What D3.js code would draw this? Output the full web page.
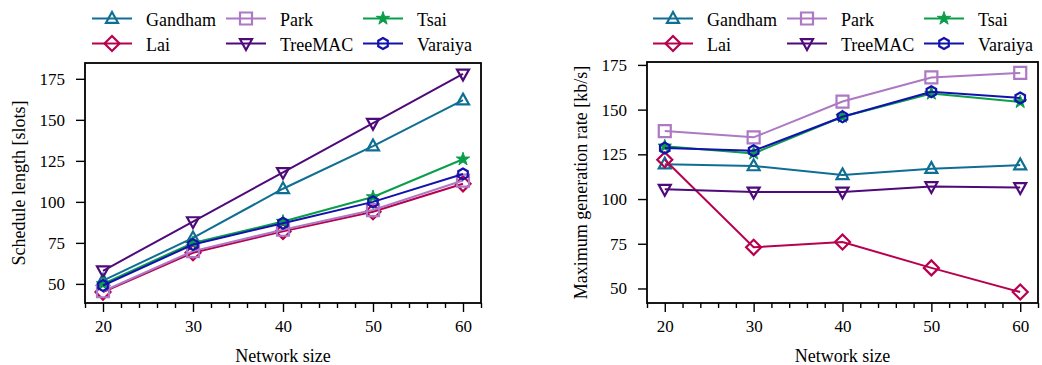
<!DOCTYPE html>
<html>
<head>
<meta charset="utf-8">
<script src="https://cdn.jsdelivr.net/npm/d3@7/dist/d3.min.js"></script>
<style>
  html, body { margin: 0; padding: 0; background: #fff; }
  #chart text { font-family: "Liberation Serif", "Times New Roman", serif !important; }
</style>
</head>
<body>
<svg id="chart" width="1042" height="365"></svg>
<script>
// Network sizes on the x axis
const networkSizes = [20, 30, 40, 50, 60];
const xTicks = [20, 30, 40, 50, 60];

// Protocol names (legend order)
const protocols = ["Gandham", "Lai", "Park", "TreeMAC", "Tsai", "Varaiya"];

// Schedule length [slots]
const scheduleGandham = [52, 78, 108, 134, 162];
const scheduleLai     = [45, 69, 82, 94, 111];
const schedulePark    = [45.5, 70, 83, 95, 113];
const scheduleTreeMAC = [58, 88, 118, 148, 178];
const scheduleTsai    = [50, 75, 88, 103, 126];
const scheduleVaraiya = [49, 74, 87, 100, 117];
const scheduleTicks   = [50, 75, 100, 125, 150, 175];

// Maximum generation rate [kb/s]
const rateGandham = [119.5, 118.5, 113.5, 117, 119];
const rateLai     = [122, 73, 76, 61.5, 48];
const ratePark    = [138, 134.5, 154.5, 168, 170.5];
const rateTreeMAC = [105.5, 104, 104, 107, 106.5];
const rateTsai    = [129.5, 125.5, 146, 159, 154.3];
const rateVaraiya = [128.5, 127, 146, 160, 156.5];
const rateTicks   = [50, 75, 100, 125, 150, 175];

const FONT = "Liberation Serif, serif";
const LABEL_SIZE = 18;
const TICK_SIZE = 17;

const colors = {
  Gandham: "#0f6e93",
  Lai: "#b8004e",
  Park: "#ad78c4",
  TreeMAC: "#4f0a7a",
  Tsai: "#0a9e4a",
  Varaiya: "#1212ad"
};

const markerPaths = {
  Gandham: "M0,-6.5L6,4.3L-6,4.3Z",
  Lai: "M0,-7.5L7.5,0L0,7.5L-7.5,0Z",
  Park: "M-6,-6H6V6H-6Z",
  TreeMAC: "M0,6.5L6,-4.3L-6,-4.3Z",
  Tsai: d3.symbol(d3.symbolStar, 55)(),
  Varaiya: (() => {
    const r = 5.5, pts = [];
    for (let i = 0; i < 6; i++) {
      const a = Math.PI / 2 + i * Math.PI / 3;
      pts.push([r * Math.cos(a), -r * Math.sin(a)]);
    }
    return "M" + pts.map(p => p.join(",")).join("L") + "Z";
  })()
};

const svg = d3.select("#chart").attr("font-family", FONT);

function padded(values) {
  const [lo, hi] = d3.extent(values);
  const m = (hi - lo) * 0.05;
  return [lo - m, hi + m];
}

function styleText(sel, size) {
  return sel.attr("font-family", FONT).attr("font-size", size).attr("fill", "#000");
}

function drawMarker(g, name, x, y) {
  const filled = name === "Tsai";
  g.append("path")
    .attr("d", markerPaths[name])
    .attr("transform", `translate(${x},${y})`)
    .attr("fill", filled ? colors[name] : "none")
    .attr("stroke", colors[name])
    .attr("stroke-width", filled ? 1 : 2.2)
    .attr("stroke-linejoin", "miter");
}

function panel(opts) {
  const { left, right, top, bottom, series, yTicks, yLabel, legendX } = opts;
  const allVals = series.flatMap(s => s.values);
  const x = d3.scaleLinear().domain([18, 62]).range([left, right]);
  const y = d3.scaleLinear().domain(padded(allVals)).range([bottom, top]);

  const g = svg.append("g");

  // x axis: major ticks with labels, minor ticks every 2
  const xAxis = d3.axisBottom(x).tickValues(xTicks).tickSize(9).tickPadding(8).tickFormat(d3.format("d"));
  const xMinor = d3.axisBottom(x).tickValues(d3.range(18, 62.1, 2).filter(v => v % 10 !== 0)).tickSize(5).tickFormat("");
  const gx = g.append("g").attr("transform", `translate(0,${bottom})`).call(xAxis);
  const gxm = g.append("g").attr("transform", `translate(0,${bottom})`).call(xMinor);
  [gx, gxm].forEach(a => {
    a.attr("font-family", FONT).attr("font-size", TICK_SIZE);
    a.select(".domain").remove();
    a.selectAll("line").attr("stroke", "#000").attr("stroke-width", 1.4);
  });
  styleText(gx.selectAll("text"), TICK_SIZE);

  // y axis
  const yAxis = d3.axisLeft(y).tickValues(yTicks).tickSize(9).tickPadding(11).tickFormat(d3.format("d"));
  const gy = g.append("g").attr("transform", `translate(${left},0)`).call(yAxis);
  gy.attr("font-family", FONT).attr("font-size", TICK_SIZE);
  gy.select(".domain").remove();
  gy.selectAll("line").attr("stroke", "#000").attr("stroke-width", 1.4);
  styleText(gy.selectAll("text"), TICK_SIZE);

  // series lines and markers
  const line = d3.line().x((d, i) => x(networkSizes[i])).y(d => y(d));
  series.forEach(s => {
    g.append("path")
      .attr("d", line(s.values))
      .attr("fill", "none")
      .attr("stroke", colors[s.name])
      .attr("stroke-width", 2);
    s.values.forEach((v, i) => drawMarker(g, s.name, x(networkSizes[i]), y(v)));
  });

  // frame
  g.append("rect")
    .attr("x", left).attr("y", top)
    .attr("width", right - left).attr("height", bottom - top)
    .attr("fill", "none").attr("stroke", "#000").attr("stroke-width", 1.8);

  // axis titles
  styleText(g.append("text")
    .attr("x", (left + right) / 2).attr("y", bottom + 59)
    .attr("text-anchor", "middle"), LABEL_SIZE)
    .text("Network size");
  styleText(g.append("text")
    .attr("transform", `translate(${left - 60},${(top + bottom) / 2}) rotate(-90)`)
    .attr("text-anchor", "middle"), LABEL_SIZE)
    .text(yLabel);

  // legend: 3 columns x 2 rows
  const colOffsets = [0, 134, 271];
  const rows = [18.5, 43.5];
  protocols.forEach((name, i) => {
    const col = Math.floor(i / 2), row = i % 2;
    const lx = legendX + colOffsets[col], ly = rows[row];
    const lg = svg.append("g");
    lg.append("line").attr("x1", lx).attr("x2", lx + 40).attr("y1", ly).attr("y2", ly)
      .attr("stroke", colors[name]).attr("stroke-width", 2);
    drawMarker(lg, name, lx + 20, ly);
    styleText(lg.append("text").attr("x", lx + 54).attr("y", ly + 7), LABEL_SIZE).text(name);
  });
}

panel({
  left: 85, right: 481, top: 63, bottom: 303,
  series: [
    { name: "Gandham", values: scheduleGandham },
    { name: "Lai", values: scheduleLai },
    { name: "Park", values: schedulePark },
    { name: "TreeMAC", values: scheduleTreeMAC },
    { name: "Tsai", values: scheduleTsai },
    { name: "Varaiya", values: scheduleVaraiya }
  ],
  yTicks: scheduleTicks,
  yLabel: "Schedule length [slots]",
  legendX: 92
});

panel({
  left: 647, right: 1038, top: 62, bottom: 303,
  series: [
    { name: "Gandham", values: rateGandham },
    { name: "Lai", values: rateLai },
    { name: "Park", values: ratePark },
    { name: "TreeMAC", values: rateTreeMAC },
    { name: "Tsai", values: rateTsai },
    { name: "Varaiya", values: rateVaraiya }
  ],
  yTicks: rateTicks,
  yLabel: "Maximum generation rate [kb/s]",
  legendX: 653
});
</script>
</body>
</html>
